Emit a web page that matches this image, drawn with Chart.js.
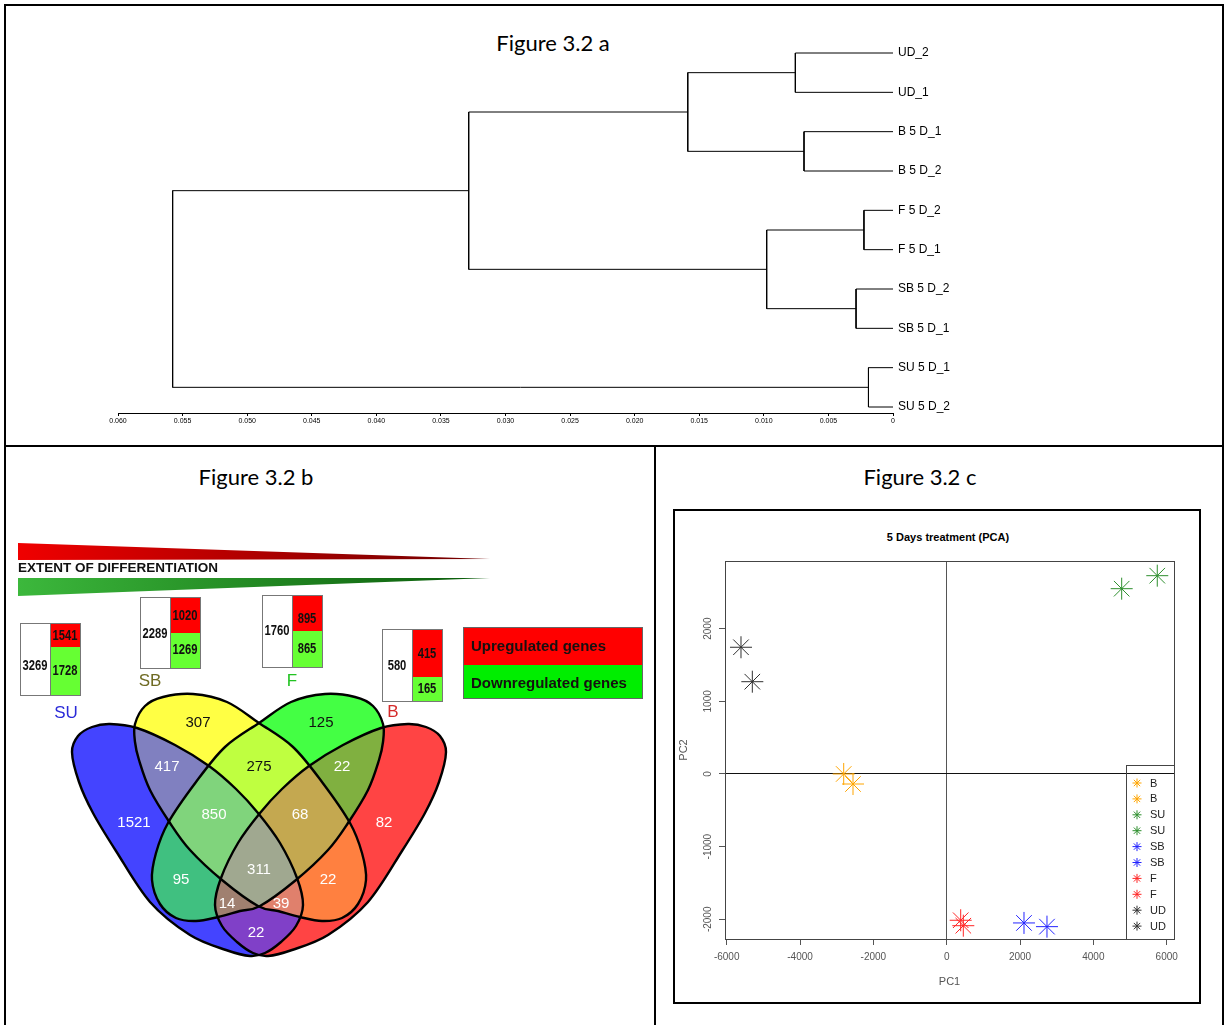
<!DOCTYPE html>
<html>
<head>
<meta charset="utf-8">
<script src="https://cdn.jsdelivr.net/npm/chart.js@4.4.1/dist/chart.umd.min.js"></script>
<style>
  body { margin: 0; background: #fff; }
  #page { position: relative; width: 1225px; height: 1025px; overflow: hidden; }
  .frame { position: absolute; border: 2px solid #000; box-sizing: border-box; }
  .fig { position: absolute; font-family: Lato, "Open Sans", sans-serif; font-size: 22px; line-height: 26px; transform: translateX(-50%); white-space: nowrap; color: #000; }
  .ptitle { position: absolute; font-family: "Liberation Sans", Arial, sans-serif; font-weight: bold; font-size: 11px; line-height: 12px; transform: translateX(-50%); white-space: nowrap; }
  canvas { position: absolute; }
</style>
</head>
<body>
<div id="page">
  <div class="frame" style="left:4px;top:4px;width:1220px;height:443px;"></div>
  <div class="frame" style="left:4px;top:445px;width:652px;height:600px;"></div>
  <div class="frame" style="left:654px;top:445px;width:570px;height:600px;"></div>
  <div class="frame" style="left:673px;top:509px;width:528px;height:495px;"></div>

  <div class="fig" style="left:553px;top:30px;">Figure 3.2 a</div>
  <div class="fig" style="left:256px;top:464px;">Figure 3.2 b</div>
  <div class="fig" style="left:920px;top:464px;">Figure 3.2 c</div>
  <div class="ptitle" style="left:948px;top:531px;">5 Days treatment (PCA)</div>

  <canvas id="dendro" width="1225" height="445" style="left:0;top:0;"></canvas>
  <canvas id="venn" width="654" height="579" style="left:0;top:446px;"></canvas>
  <canvas id="pca" width="569" height="578" style="left:655px;top:446px;"></canvas>
</div>

<script>
// ---------- Figure 3.2 a : hierarchical clustering ----------
const leafLabels = ['UD_2', 'UD_1', 'B 5 D_1', 'B 5 D_2', 'F 5 D_2', 'F 5 D_1', 'SB 5 D_2', 'SB 5 D_1', 'SU 5 D_1', 'SU 5 D_2'];
// hclust style merges: negative = leaf (1-based), positive = earlier merge row
const mergeLeft = [-1, -3, -5, -7, -9, 1, 3, 6, 8];
const mergeRight = [-2, -4, -6, -8, -10, 2, 4, 7, 5];
const mergeHeight = [0.00756, 0.00689, 0.00225, 0.00286, 0.00190, 0.01589, 0.00978, 0.03285, 0.05577];
const distTicks = [0, 0.005, 0.010, 0.015, 0.020, 0.025, 0.030, 0.035, 0.040, 0.045, 0.050, 0.055, 0.060];

// ---------- Figure 3.2 b : Venn diagram and counts ----------
const vennSets = ['SU', 'SB', 'F', 'B'];
const vennRegions = ['SU', 'SB', 'F', 'B', 'SU+SB', 'SB+F', 'F+B', 'SU+SB+F', 'SB+F+B', 'SU+F', 'SU+SB+F+B', 'SB+B', 'SU+F+B', 'SU+SB+B', 'SU+B'];
const vennCounts = [1521, 307, 125, 82, 417, 275, 22, 850, 68, 95, 311, 22, 14, 39, 22];
const boxGroups = ['SU', 'SB', 'F', 'B'];
const boxTotal = [3269, 2289, 1760, 580];
const boxUp = [1541, 1020, 895, 415];
const boxDown = [1728, 1269, 865, 165];

// ---------- Figure 3.2 c : PCA ----------
const pcaLabels = ['B', 'B', 'SU', 'SU', 'SB', 'SB', 'F', 'F', 'UD', 'UD'];
const pcaPC1 = [-2809, -2555, 4772, 5743, 2108, 2735, 382, 453, -5610, -5301];
const pcaPC2 = [0, -138, 2550, 2729, -2050, -2101, -2013, -2088, 1744, 1270];
const pcaXTicks = [-6000, -4000, -2000, 0, 2000, 4000, 6000];
const pcaYTicks = [-2000, -1000, 0, 1000, 2000];

// ---------- styles / layout ----------
const groupColor = { B: '#ffa500', SU: '#2e8f2e', SB: '#2424ff', F: '#ff2424', UD: '#303030' };

// outline guide points of the left-hand shapes; the right-hand ones are their mirror images
const vennAxisX = 259;
const outlineSU = [[72, 752], [78, 736], [92, 727], [110, 724], [137, 728], [175, 745], [209, 766], [236, 789],
  [258, 813], [280, 843], [297, 878], [303, 905], [296, 926], [281, 942], [265, 953], [250, 956], [226, 950],
  [190, 935], [150, 902], [116, 851], [93, 813], [79, 782]];
const outlineSB = [[135, 724], [145, 706], [163, 697], [193, 694], [227, 702], [259, 723], [293, 747], [322, 782],
  [350, 823], [362, 853], [366, 880], [358, 904], [342, 918], [322, 921], [300, 917], [278, 911], [258, 906],
  [222, 880], [190, 850], [170, 823], [150, 790], [139, 760], [135, 742]];
const mirror = pts => pts.map(([px, py]) => [2 * vennAxisX - px, py]);
const vennOutline = { SU: outlineSU, SB: outlineSB, F: mirror(outlineSB), B: mirror(outlineSU) };

const vennFill = {
  'SU': '#4444ff', 'SB': '#ffff44', 'F': '#44ff44', 'B': '#ff4444',
  'SU+SB': '#8080c0', 'SB+F': '#bfff40', 'F+B': '#80b040', 'SU+SB+F': '#80d47c',
  'SB+F+B': '#c4a850', 'SU+F': '#40c080', 'SU+SB+F+B': '#a0a890', 'SB+B': '#ff8040',
  'SU+F+B': '#a08070', 'SU+SB+B': '#e0806c', 'SU+B': '#8040c8'
};
const vennLabelXY = [[134, 823], [198, 723], [321, 723], [384, 823], [167, 767], [259, 767], [342, 767],
  [214, 815], [300, 815], [181, 880], [259, 870], [328, 880], [227, 904], [281, 904], [256, 933]];
const vennDarkText = ['SB', 'F', 'SB+F'];

const boxLayout = [
  { x0: 20, xm: 50, x1: 80, y0: 623, ym: 647, y1: 695, ty: 666, uy: 636, lx: 66, ly: 713, color: '#2a2ad8' },
  { x0: 140, xm: 170, x1: 200, y0: 597, ym: 633, y1: 668, ty: 634, uy: 616, lx: 150, ly: 681, color: '#6e6a22' },
  { x0: 262, xm: 292, x1: 322, y0: 595, ym: 631, y1: 667, ty: 631, uy: 619, lx: 292, ly: 681, color: '#22c322' },
  { x0: 382, xm: 412, x1: 442, y0: 629, ym: 677, y1: 701, ty: 666, uy: 654, lx: 393, ly: 712, color: '#d42a2a' }
];

const SANS = '"Liberation Sans", Arial, sans-serif';

// ---------- dendrogram ----------
function nodePos(ref) {
  if (ref < 0) return { y: -ref - 1, h: 0 };
  const m = ref - 1;
  const l = nodePos(mergeLeft[m]), r = nodePos(mergeRight[m]);
  return { y: (l.y + r.y) / 2, h: mergeHeight[m] };
}
const dendroSets = mergeHeight.map((h, m) => {
  const l = nodePos(mergeLeft[m]), r = nodePos(mergeRight[m]);
  return {
    data: [{ x: l.h, y: l.y }, { x: h, y: l.y }, { x: h, y: r.y }, { x: r.h, y: r.y }],
    showLine: true, borderColor: '#000', borderWidth: 1, pointRadius: 0, tension: 0
  };
});

new Chart(document.getElementById('dendro'), {
  type: 'scatter',
  data: { datasets: dendroSets },
  options: {
    responsive: false, animation: false, events: [],
    layout: { padding: { left: 118, right: 200, top: 33, bottom: 12 } },
    plugins: { legend: { display: false }, tooltip: { enabled: false } },
    scales: {
      x: {
        type: 'linear', reverse: true, min: 0, max: 0.06,
        afterBuildTicks: s => { s.ticks = distTicks.map(v => ({ value: v })); },
        afterFit: s => { s.height = 20; },
        ticks: {
          autoSkip: false, maxRotation: 0, padding: 1, color: '#000',
          font: { family: SANS, size: 7 },
          callback: v => (v === 0 ? '0' : v.toFixed(3))
        },
        grid: { drawOnChartArea: false, drawTicks: true, tickLength: 3, tickColor: '#000' },
        border: { display: true, color: '#000', width: 1 }
      },
      y: {
        type: 'linear', position: 'right', reverse: true, min: -0.5085, max: 9.1525,
        afterBuildTicks: s => { s.ticks = leafLabels.map((_, i) => ({ value: i })); },
        afterFit: s => { s.width = 132; },
        ticks: { autoSkip: false, padding: 5, color: '#000', font: { family: SANS, size: 12 }, callback: (v) => leafLabels[v] },
        grid: { display: false, drawTicks: false },
        border: { display: false }
      }
    }
  }
});

// ---------- Venn panel ----------
const vennPlugin = {
  id: 'vennPanel',
  afterDatasetsDraw(chart) {
    const { ctx, chartArea: area, scales: { x, y } } = chart;
    const px = v => x.getPixelForValue(v);
    const py = v => y.getPixelForValue(v);
    const narrowText = (txt, cx, cy) => {
      ctx.save();
      ctx.translate(cx, cy);
      ctx.scale(0.8, 1);
      ctx.fillText(txt, 0, 0);
      ctx.restore();
    };

    // differentiation wedges
    const wedge = (pts, c0, c1) => {
      const g = ctx.createLinearGradient(px(18), 0, px(490), 0);
      g.addColorStop(0, c0); g.addColorStop(1, c1);
      ctx.beginPath();
      pts.forEach((p, i) => (i ? ctx.lineTo(px(p[0]), py(p[1])) : ctx.moveTo(px(p[0]), py(p[1]))));
      ctx.closePath();
      ctx.fillStyle = g; ctx.fill();
    };
    wedge([[18, 543], [490, 559], [18, 560]], '#f00000', '#6e0000');
    wedge([[18, 578], [490, 578], [18, 596]], '#3cb83c', '#0a5a0a');
    ctx.fillStyle = '#111';
    ctx.font = 'bold 13.5px ' + SANS;
    ctx.textAlign = 'left'; ctx.textBaseline = 'middle';
    ctx.fillText('EXTENT OF DIFFERENTIATION', px(18), py(568));

    // count boxes
    boxGroups.forEach((g, i) => {
      const b = boxLayout[i];
      ctx.fillStyle = '#fff';
      ctx.fillRect(px(b.x0), py(b.y0), px(b.xm) - px(b.x0), py(b.y1) - py(b.y0));
      ctx.fillStyle = '#ff0000';
      ctx.fillRect(px(b.xm), py(b.y0), px(b.x1) - px(b.xm), py(b.ym) - py(b.y0));
      ctx.fillStyle = '#66ff33';
      ctx.fillRect(px(b.xm), py(b.ym), px(b.x1) - px(b.xm), py(b.y1) - py(b.ym));
      ctx.strokeStyle = '#777'; ctx.lineWidth = 1;
      ctx.strokeRect(px(b.x0) + 0.5, py(b.y0) + 0.5, px(b.x1) - px(b.x0), py(b.y1) - py(b.y0));
      ctx.beginPath(); ctx.moveTo(px(b.xm) + 0.5, py(b.y0)); ctx.lineTo(px(b.xm) + 0.5, py(b.y1)); ctx.stroke();
      ctx.fillStyle = '#111';
      ctx.font = 'bold 14px ' + SANS;
      ctx.textAlign = 'center'; ctx.textBaseline = 'middle';
      narrowText(String(boxTotal[i]), px((b.x0 + b.xm) / 2), py(b.ty));
      narrowText(String(boxUp[i]), px((b.xm + b.x1) / 2), py(b.uy));
      narrowText(String(boxDown[i]), px((b.xm + b.x1) / 2), py((b.ym + b.y1) / 2));
      ctx.fillStyle = b.color;
      ctx.font = '17px ' + SANS;
      ctx.fillText(g, px(b.lx), py(b.ly));
    });

    // key
    ctx.fillStyle = '#ff0000';
    ctx.fillRect(px(463), py(627), px(642) - px(463), py(665) - py(627));
    ctx.fillStyle = '#00ee00';
    ctx.fillRect(px(463), py(665), px(642) - px(463), py(698) - py(665));
    ctx.strokeStyle = '#666'; ctx.lineWidth = 1;
    ctx.strokeRect(px(463) + 0.5, py(627) + 0.5, px(642) - px(463), py(698) - py(627));
    ctx.fillStyle = '#161010';
    ctx.font = 'bold 15px ' + SANS;
    ctx.textAlign = 'left';
    ctx.fillText('Upregulated genes', px(471), py(647));
    ctx.fillText('Downregulated genes', px(471), py(684));

    // Venn shapes: closed smooth curves through the guide points
    const shape = (pts, fresh) => {
      if (fresh) ctx.beginPath();
      const P = pts.map(p => [px(p[0]), py(p[1])]);
      const n = P.length;
      ctx.moveTo(P[0][0], P[0][1]);
      for (let i = 0; i < n; i++) {
        const p0 = P[(i - 1 + n) % n], p1 = P[i], p2 = P[(i + 1) % n], p3 = P[(i + 2) % n];
        ctx.bezierCurveTo(
          p1[0] + (p2[0] - p0[0]) / 6, p1[1] + (p2[1] - p0[1]) / 6,
          p2[0] - (p3[0] - p1[0]) / 6, p2[1] - (p3[1] - p1[1]) / 6,
          p2[0], p2[1]);
      }
      ctx.closePath();
    };
    vennRegions.forEach(reg => {
      const members = reg.split('+');
      ctx.save();
      vennSets.forEach(s => {
        if (members.includes(s)) {
          shape(vennOutline[s], true);
          ctx.clip();
        } else {
          ctx.beginPath();
          ctx.rect(area.left, area.top, area.width, area.height);
          shape(vennOutline[s], false);
          ctx.clip('evenodd');
        }
      });
      ctx.fillStyle = vennFill[reg];
      ctx.fillRect(area.left, area.top, area.width, area.height);
      ctx.restore();
    });
    ctx.strokeStyle = '#000'; ctx.lineWidth = 2.4; ctx.lineJoin = 'round';
    vennSets.forEach(s => { shape(vennOutline[s], true); ctx.stroke(); });

    ctx.font = '15px ' + SANS;
    ctx.textAlign = 'center'; ctx.textBaseline = 'middle';
    vennRegions.forEach((reg, i) => {
      ctx.fillStyle = vennDarkText.includes(reg) ? '#111' : '#fff';
      ctx.fillText(String(vennCounts[i]), px(vennLabelXY[i][0]), py(vennLabelXY[i][1]));
    });
  }
};

new Chart(document.getElementById('venn'), {
  type: 'scatter',
  data: { datasets: [] },
  options: {
    responsive: false, animation: false, events: [],
    layout: { padding: 0 },
    plugins: { legend: { display: false }, tooltip: { enabled: false } },
    scales: {
      x: { type: 'linear', min: 0, max: 654, display: false },
      y: { type: 'linear', min: 446, max: 1025, reverse: true, display: false }
    }
  },
  plugins: [vennPlugin]
});

// ---------- PCA ----------
const pcaBoxAndLegend = {
  id: 'pcaBoxAndLegend',
  afterDraw(chart) {
    const { ctx, chartArea: a } = chart;
    ctx.save();
    ctx.strokeStyle = '#444'; ctx.lineWidth = 1;
    ctx.strokeRect(a.left + 0.5, a.top + 0.5, a.width, a.height);
    // legend box in the lower right corner
    const lx0 = a.right - 48, ly0 = a.bottom - 174;
    ctx.strokeRect(lx0 + 0.5, ly0 + 0.5, a.right - lx0, a.bottom - ly0);
    ctx.font = '11px ' + SANS;
    ctx.textAlign = 'left'; ctx.textBaseline = 'middle';
    chart.data.datasets.forEach((ds, i) => {
      const cy = ly0 + 18 + i * 15.9;
      const cx = lx0 + 11;
      ctx.strokeStyle = ds.borderColor; ctx.lineWidth = 1;
      Chart.helpers.drawPoint(ctx, { pointStyle: 'star', radius: 4.5, borderWidth: 1 }, cx, cy);
      ctx.fillStyle = '#222';
      ctx.fillText(ds.label, lx0 + 24, cy + 0.5);
    });
    ctx.restore();
  }
};

new Chart(document.getElementById('pca'), {
  type: 'scatter',
  data: {
    datasets: pcaLabels.map((g, i) => ({
      label: g,
      data: [{ x: pcaPC1[i], y: pcaPC2[i] }],
      pointStyle: 'star', pointRadius: 11, borderWidth: 1,
      borderColor: groupColor[g], backgroundColor: groupColor[g]
    }))
  },
  options: {
    responsive: false, animation: false, events: [],
    layout: { padding: { left: 22, right: 50, top: 115, bottom: 35 } },
    plugins: { legend: { display: false }, tooltip: { enabled: false } },
    scales: {
      x: {
        type: 'linear', min: -6046, max: 6199,
        afterBuildTicks: s => { s.ticks = pcaXTicks.map(v => ({ value: v })); },
        afterFit: s => { s.height = 50; },
        ticks: { autoSkip: false, maxRotation: 0, padding: 6, color: '#555', font: { family: SANS, size: 10 }, callback: v => String(v) },
        grid: {
          drawOnChartArea: true, drawTicks: true, tickLength: 6, tickColor: '#555', lineWidth: 1,
          color: c => (c.tick && c.tick.value === 0 ? '#555' : 'rgba(0,0,0,0)')
        },
        border: { display: true, color: '#444' },
        title: { display: true, text: 'PC1', color: '#555', font: { family: SANS, size: 11 }, padding: 0 }
      },
      y: {
        type: 'linear', min: -2271, max: 2931,
        afterBuildTicks: s => { s.ticks = pcaYTicks.map(v => ({ value: v })); },
        afterFit: s => { s.width = 48; },
        ticks: { autoSkip: false, minRotation: 90, maxRotation: 90, crossAlign: 'center', padding: -2, color: '#555', font: { family: SANS, size: 10 }, callback: v => String(v) },
        grid: {
          drawOnChartArea: true, drawTicks: true, tickLength: 6, tickColor: '#555', lineWidth: 1,
          color: c => (c.tick && c.tick.value === 0 ? '#111' : 'rgba(0,0,0,0)')
        },
        border: { display: true, color: '#444' },
        title: { display: true, text: 'PC2', color: '#555', font: { family: SANS, size: 11 }, padding: 0 }
      }
    }
  },
  plugins: [pcaBoxAndLegend]
});
</script>
</body>
</html>
